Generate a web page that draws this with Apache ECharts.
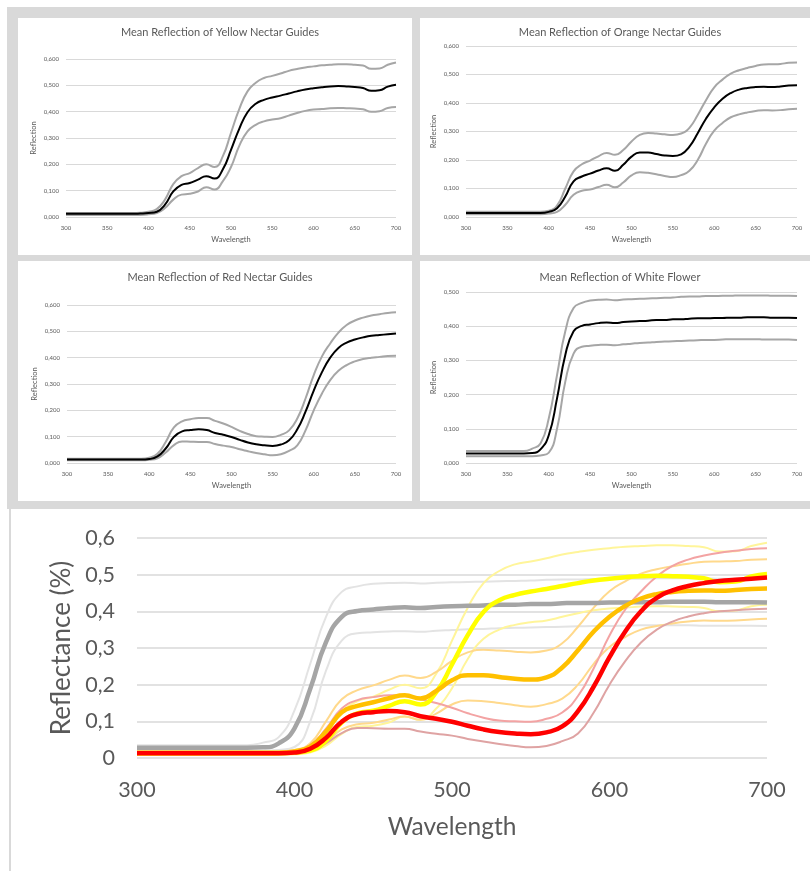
<!DOCTYPE html>
<html>
<head>
<meta charset="utf-8">
<script src="https://cdn.jsdelivr.net/npm/echarts@6/dist/echarts.min.js"></script>
<style>
  html, body { margin: 0; padding: 0; background: #ffffff; }
  #chart { width: 810px; height: 871px; }
</style>
</head>
<body>
<div id="chart"></div>
<script>
// Wavelength samples (nm)
const wavelengths = [300,310,320,330,340,350,360,370,380,390,400,410,420,430,440,450,460,470,480,490,500,510,520,530,540,550,560,570,580,590,600,610,620,630,640,650,660,670,680,690,700];

// Yellow nectar guides: mean and spread
const yellowMean  = [0.012,0.012,0.012,0.012,0.012,0.012,0.012,0.012,0.012,0.013,0.015,0.020,0.047,0.097,0.122,0.129,0.142,0.155,0.146,0.180,0.255,0.335,0.398,0.430,0.445,0.454,0.461,0.469,0.477,0.484,0.489,0.493,0.496,0.497,0.496,0.494,0.490,0.479,0.481,0.495,0.502];
const yellowUpper = [0.015,0.015,0.015,0.015,0.015,0.015,0.015,0.015,0.015,0.016,0.020,0.030,0.066,0.125,0.155,0.167,0.186,0.200,0.190,0.230,0.320,0.410,0.477,0.510,0.528,0.536,0.545,0.555,0.562,0.568,0.572,0.576,0.578,0.580,0.580,0.578,0.575,0.563,0.564,0.578,0.587];
const yellowLower = [0.008,0.008,0.008,0.008,0.008,0.008,0.008,0.008,0.008,0.008,0.010,0.015,0.034,0.066,0.085,0.088,0.097,0.113,0.104,0.135,0.190,0.270,0.325,0.350,0.363,0.370,0.375,0.385,0.395,0.403,0.408,0.410,0.413,0.414,0.413,0.412,0.409,0.400,0.402,0.414,0.418];

// Orange nectar guides
const orangeMean  = [0.014,0.014,0.014,0.014,0.014,0.014,0.014,0.014,0.014,0.014,0.018,0.031,0.072,0.125,0.142,0.152,0.163,0.171,0.162,0.183,0.212,0.226,0.226,0.221,0.216,0.214,0.220,0.247,0.294,0.345,0.385,0.415,0.435,0.447,0.453,0.456,0.457,0.456,0.458,0.461,0.462];
const orangeUpper = [0.018,0.018,0.018,0.018,0.018,0.018,0.018,0.018,0.018,0.018,0.022,0.040,0.100,0.160,0.185,0.198,0.213,0.225,0.218,0.235,0.265,0.288,0.295,0.293,0.290,0.288,0.293,0.313,0.358,0.410,0.455,0.482,0.503,0.515,0.523,0.530,0.535,0.536,0.537,0.541,0.542];
const orangeLower = [0.010,0.010,0.010,0.010,0.010,0.010,0.010,0.010,0.010,0.010,0.012,0.018,0.043,0.078,0.092,0.096,0.105,0.113,0.104,0.121,0.146,0.157,0.155,0.150,0.144,0.140,0.147,0.162,0.200,0.257,0.303,0.330,0.350,0.360,0.367,0.372,0.375,0.374,0.375,0.378,0.380];

// Red nectar guides
const redMean  = [0.013,0.013,0.013,0.013,0.013,0.013,0.013,0.013,0.013,0.013,0.015,0.025,0.055,0.099,0.120,0.125,0.128,0.125,0.114,0.107,0.099,0.088,0.078,0.071,0.067,0.065,0.070,0.086,0.128,0.195,0.275,0.345,0.400,0.437,0.457,0.469,0.477,0.483,0.486,0.489,0.492];
const redUpper = [0.016,0.016,0.016,0.016,0.016,0.016,0.016,0.016,0.016,0.016,0.020,0.035,0.080,0.135,0.158,0.166,0.171,0.171,0.160,0.150,0.137,0.122,0.110,0.102,0.100,0.099,0.107,0.124,0.169,0.245,0.334,0.405,0.454,0.495,0.524,0.541,0.552,0.560,0.565,0.570,0.572];
const redLower = [0.010,0.010,0.010,0.010,0.010,0.010,0.010,0.010,0.010,0.010,0.012,0.018,0.040,0.068,0.082,0.081,0.080,0.080,0.072,0.066,0.061,0.052,0.045,0.038,0.033,0.029,0.033,0.046,0.067,0.124,0.200,0.264,0.315,0.350,0.372,0.386,0.395,0.400,0.403,0.406,0.407];

// White flower
const whiteMean  = [0.028,0.028,0.028,0.028,0.028,0.028,0.028,0.028,0.029,0.040,0.081,0.189,0.316,0.385,0.401,0.405,0.409,0.411,0.409,0.412,0.414,0.415,0.416,0.418,0.418,0.420,0.420,0.422,0.423,0.423,0.424,0.424,0.425,0.425,0.426,0.426,0.426,0.425,0.425,0.425,0.424];
const whiteUpper = [0.035,0.035,0.035,0.035,0.035,0.035,0.035,0.035,0.042,0.057,0.130,0.257,0.385,0.453,0.468,0.475,0.477,0.478,0.476,0.478,0.479,0.480,0.481,0.482,0.483,0.484,0.486,0.487,0.487,0.488,0.488,0.489,0.489,0.490,0.490,0.490,0.490,0.489,0.489,0.489,0.488];
const whiteLower = [0.020,0.020,0.020,0.020,0.020,0.020,0.020,0.020,0.020,0.022,0.030,0.100,0.238,0.320,0.340,0.343,0.345,0.346,0.344,0.347,0.349,0.351,0.352,0.354,0.355,0.356,0.357,0.358,0.359,0.360,0.360,0.361,0.362,0.362,0.362,0.362,0.361,0.361,0.361,0.361,0.360];

const panelTitles = [
  'Mean Reflection of Yellow Nectar Guides',
  'Mean Reflection of Orange Nectar Guides',
  'Mean Reflection of Red Nectar Guides',
  'Mean Reflection of White Flower'
];

const FONT = 'Lato, "Open Sans", sans-serif';
const TEXT = '#595959';
const GRID_LINE = '#d9d9d9';

const pairs = (vals) => wavelengths.map((w, i) => [w, vals[i]]);

// Small panels: plot rectangles, y max and title position
const panels = [
  { grid: { left: 66,  top: 59,  width: 330, height: 158 }, ymax: 0.6, tx: 215, ty: 22,  sets: [yellowUpper, yellowLower, yellowMean] },
  { grid: { left: 466, top: 46,  width: 331, height: 171 }, ymax: 0.6, tx: 615, ty: 22,  sets: [orangeUpper, orangeLower, orangeMean] },
  { grid: { left: 67,  top: 305, width: 329, height: 158 }, ymax: 0.6, tx: 215, ty: 267, sets: [redUpper, redLower, redMean] },
  { grid: { left: 466, top: 292, width: 331, height: 171 }, ymax: 0.5, tx: 615, ty: 267, sets: [whiteUpper, whiteLower, whiteMean] }
];

const grids = [], xAxes = [], yAxes = [], series = [], titles = [];

const lineBase = { type: 'line', smooth: 0.5, showSymbol: false, silent: true };

panels.forEach((p, i) => {
  grids.push(Object.assign({ containLabel: false }, p.grid));
  titles.push({
    text: panelTitles[i], left: p.tx, top: p.ty, textAlign: 'center',
    textStyle: { fontFamily: FONT, fontSize: 11, fontWeight: 'normal', color: TEXT }
  });
  xAxes.push({
    type: 'value', gridIndex: i, min: 300, max: 700, interval: 50,
    name: 'Wavelength', nameLocation: 'middle', nameGap: 19,
    nameTextStyle: { fontFamily: FONT, fontSize: 7.5, color: TEXT },
    axisLine: { show: false }, axisTick: { show: false }, splitLine: { show: false },
    axisLabel: { fontFamily: FONT, fontSize: 6, color: TEXT, margin: 8 }
  });
  yAxes.push({
    type: 'value', gridIndex: i, min: 0, max: p.ymax, interval: 0.1,
    name: 'Reflection', nameLocation: 'middle', nameGap: 28, nameRotate: 90,
    nameTextStyle: { fontFamily: FONT, fontSize: 7.5, color: TEXT },
    axisLine: { show: false }, axisTick: { show: false },
    splitLine: { lineStyle: { color: GRID_LINE, width: 1 } },
    axisLabel: { fontFamily: FONT, fontSize: 6, color: TEXT, margin: 7,
      formatter: (v) => v.toFixed(3).replace('.', ',') }
  });
  const cols = ['#a6a6a6', '#a6a6a6', '#000000'];
  p.sets.forEach((vals, k) => {
    series.push(Object.assign({}, lineBase, {
      xAxisIndex: i, yAxisIndex: i, data: pairs(vals),
      lineStyle: { color: cols[k], width: 2 }, z: k === 2 ? 3 : 2
    }));
  });
});

// Combined chart of all four groups
const bi = 4;
grids.push({ left: 137, top: 538, width: 630, height: 220, containLabel: false });
xAxes.push({
  type: 'value', gridIndex: bi, min: 300, max: 700, interval: 100,
  name: 'Wavelength', nameLocation: 'middle', nameGap: 57,
  nameTextStyle: { fontFamily: FONT, fontSize: 24.5, color: TEXT },
  axisLine: { show: false }, axisTick: { show: false }, splitLine: { show: false },
  axisLabel: { fontFamily: FONT, fontSize: 21.5, color: TEXT, margin: 21 }
});
yAxes.push({
  type: 'value', gridIndex: bi, min: 0, max: 0.6, interval: 0.1,
  name: 'Reflectance (%)', nameLocation: 'middle', nameGap: 62, nameRotate: 90,
  nameTextStyle: { fontFamily: FONT, fontSize: 26, color: TEXT },
  axisLine: { show: false }, axisTick: { show: false },
  splitLine: { lineStyle: { color: GRID_LINE, width: 1.5 } },
  axisLabel: { fontFamily: FONT, fontSize: 21.5, color: TEXT, margin: 22,
    formatter: (v) => v === 0 ? '0' : v.toFixed(1).replace('.', ',') }
});

const combined = [
  [whiteUpper, '#e3e3e3', 2], [whiteLower, '#e3e3e3', 2],
  [yellowUpper, '#fff59a', 2], [yellowLower, '#fff59a', 2],
  [orangeUpper, '#ffd98c', 2], [orangeLower, '#ffd98c', 2],
  [redUpper, '#f3a3a3', 2], [redLower, '#dfa3a3', 2],
  [whiteMean, '#a5a5a5', 4.5],
  [yellowMean, '#ffff00', 4.5],
  [orangeMean, '#ffc000', 4.5],
  [redMean, '#ff0000', 4.5]
];
combined.forEach(([vals, color, w], k) => {
  series.push(Object.assign({}, lineBase, {
    xAxisIndex: bi, yAxisIndex: bi, data: pairs(vals),
    lineStyle: { color: color, width: w }, z: 2 + k * 0.01
  }));
});

const chart = echarts.init(document.getElementById('chart'), null, { renderer: 'canvas' });
chart.setOption({
  animation: false,
  backgroundColor: '#ffffff',
  graphic: [
    { type: 'rect', z: -10, shape: { x: 7, y: 7, width: 803, height: 502 }, style: { fill: '#d9d9d9' } },
    { type: 'rect', z: -9, shape: { x: 18, y: 18, width: 394, height: 237 }, style: { fill: '#ffffff' } },
    { type: 'rect', z: -9, shape: { x: 420, y: 18, width: 390, height: 237 }, style: { fill: '#ffffff' } },
    { type: 'rect', z: -9, shape: { x: 18, y: 261, width: 394, height: 240 }, style: { fill: '#ffffff' } },
    { type: 'rect', z: -9, shape: { x: 420, y: 261, width: 390, height: 240 }, style: { fill: '#ffffff' } },
    { type: 'line', z: -9, shape: { x1: 10, y1: 509, x2: 10, y2: 871 }, style: { stroke: '#d9d9d9', lineWidth: 2 } }
  ],
  title: titles,
  grid: grids,
  xAxis: xAxes,
  yAxis: yAxes,
  series: series
});
</script>
</body>
</html>
